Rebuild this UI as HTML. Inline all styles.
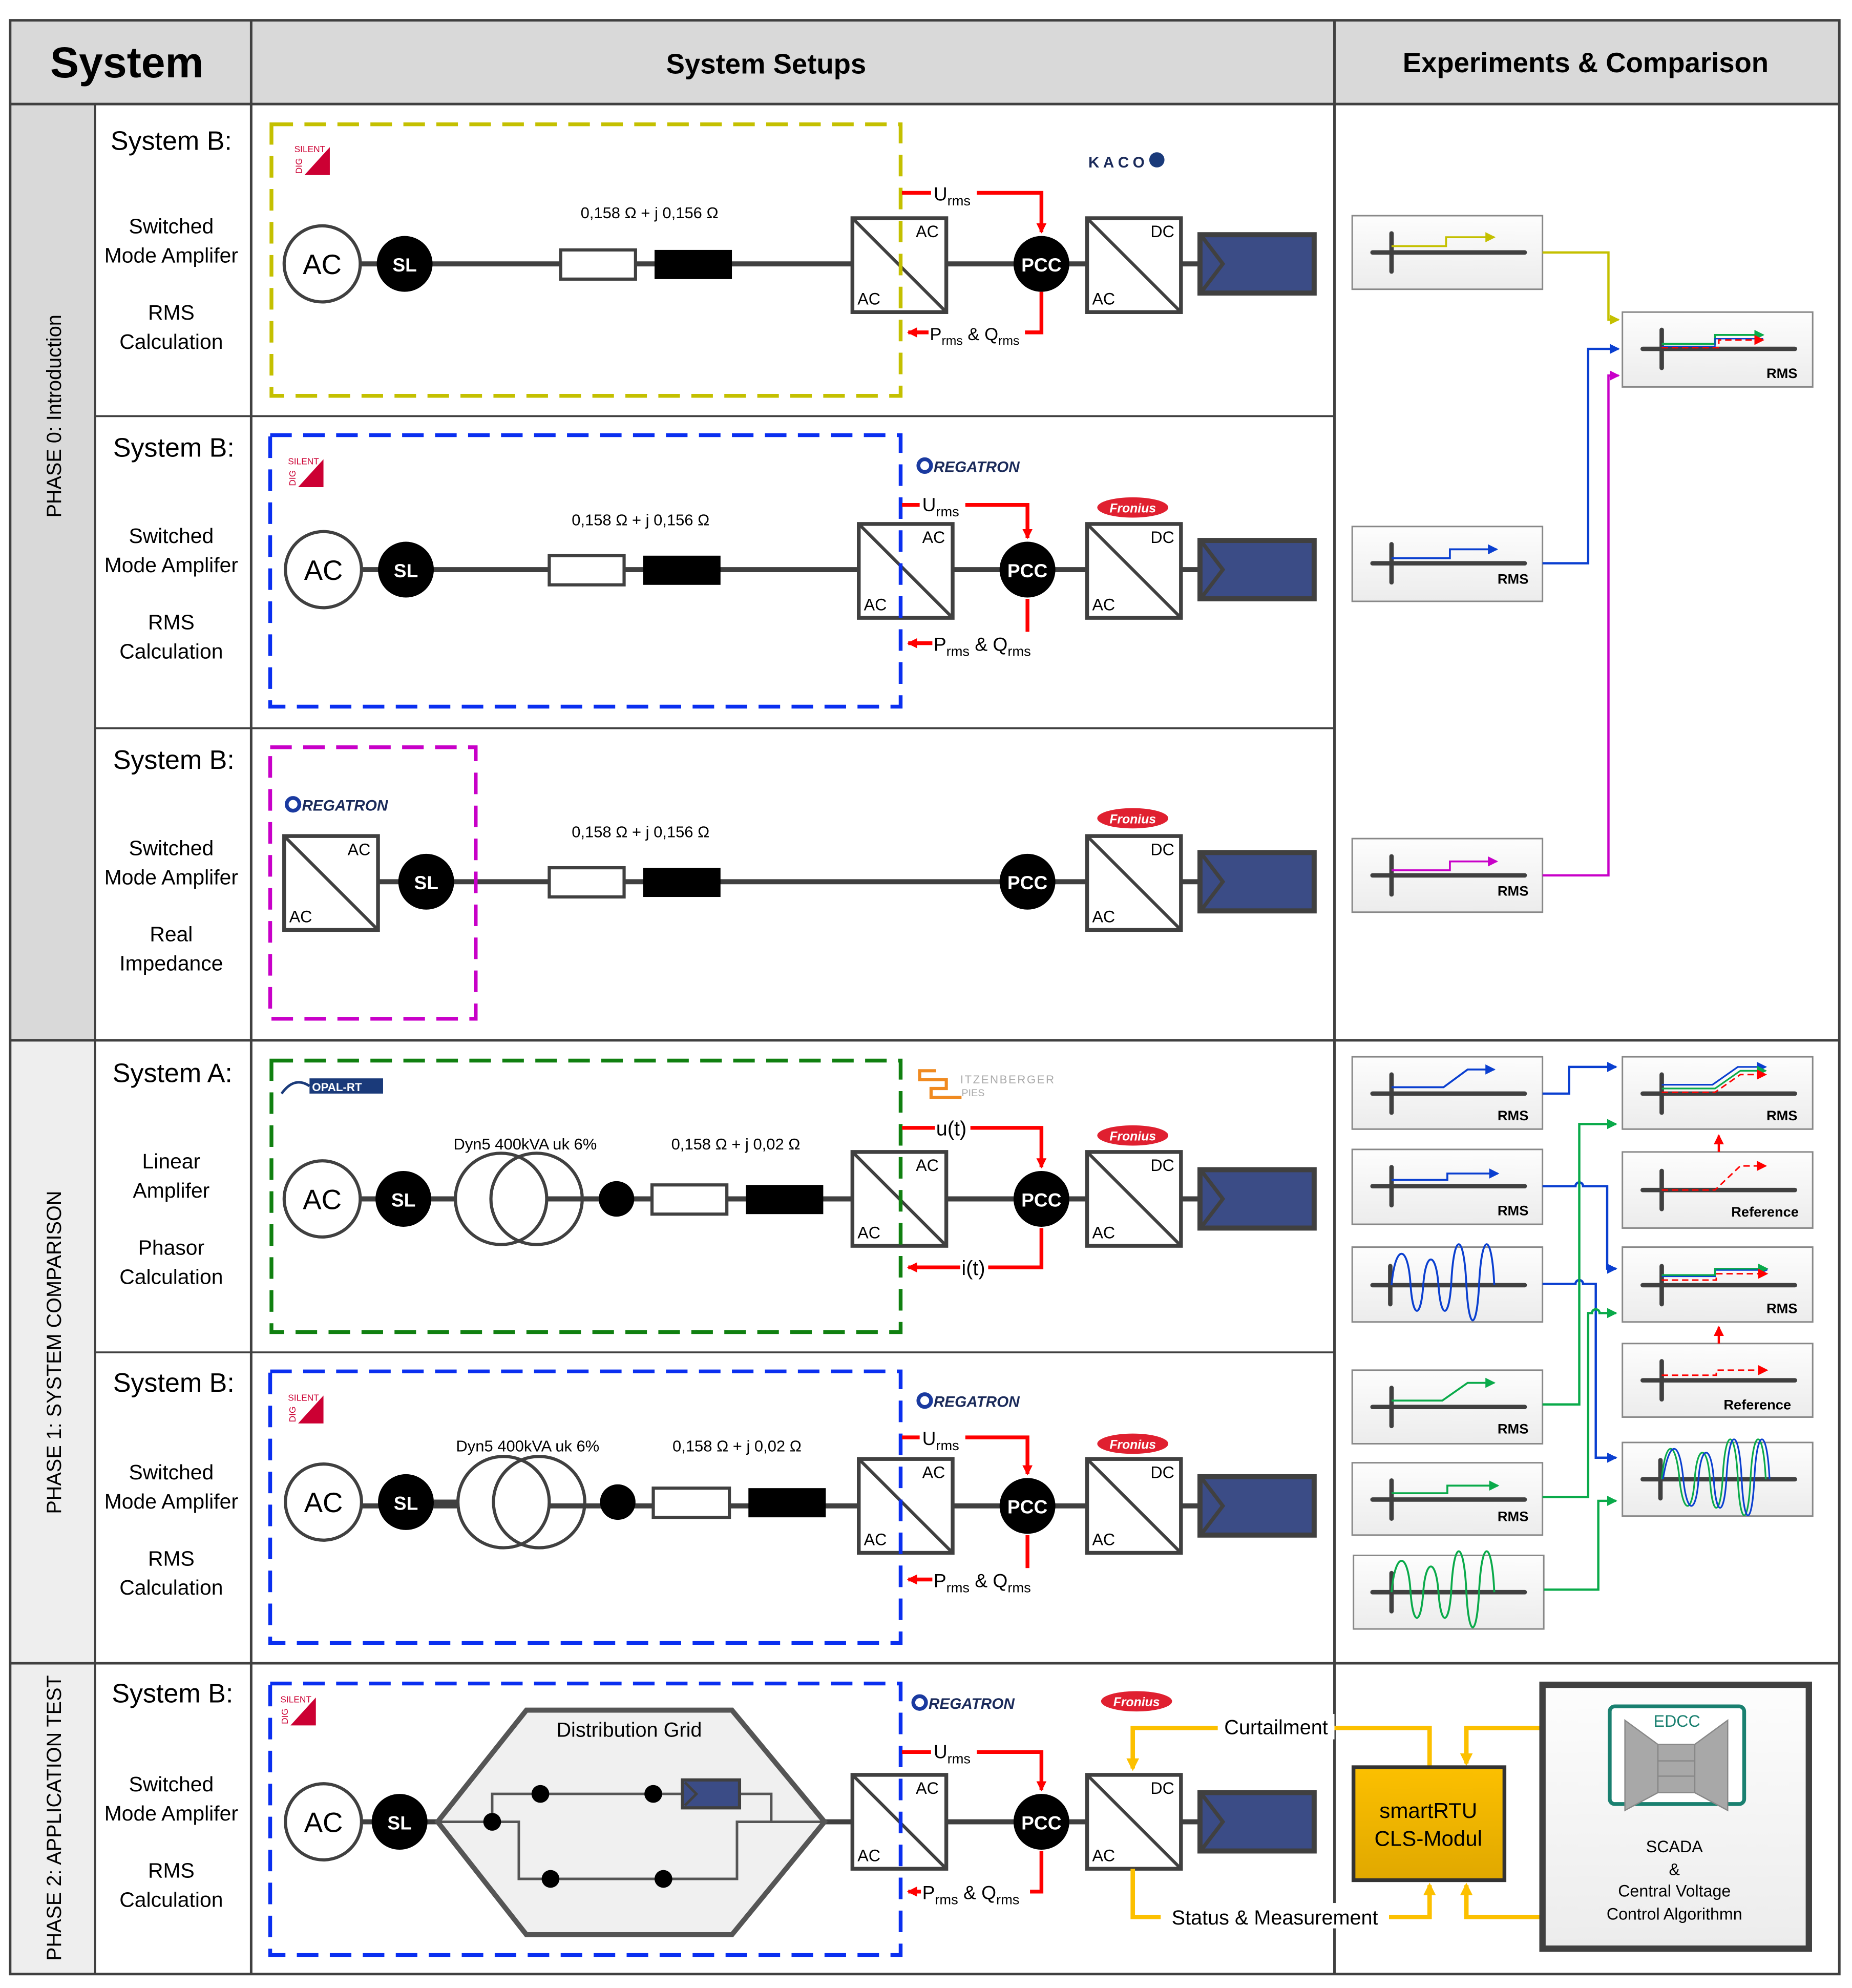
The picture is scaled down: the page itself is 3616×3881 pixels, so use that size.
<!DOCTYPE html>
<html><head><meta charset="utf-8"><style>
html,body{margin:0;padding:0;background:#fff}
svg{display:block}
text{font-family:"Liberation Sans",sans-serif;fill:#000}
.cv{fill:#fff;stroke:#404040;stroke-width:3}
.cvl{stroke:#404040;stroke-width:2.5}
.cl{font-size:13px}
.w{stroke:#404040;stroke-width:4;fill:none}
.rd{stroke:#f00;stroke-width:3;fill:none}
.pn{fill:url(#pg);stroke:#888;stroke-width:1.2}
.ax{stroke:#404040;stroke-width:3.5;stroke-linecap:round}
.rms{font-size:11px;font-weight:bold}
.sys{font-size:21px}
.sub{font-size:16.5px}
</style></head><body>
<svg width="3616" height="3881" viewBox="0 0 1460 1567" xmlns="http://www.w3.org/2000/svg">
<defs>
<linearGradient id="pg" x1="0" y1="0" x2="0" y2="1"><stop offset="0" stop-color="#fdfdfd"/><stop offset="1" stop-color="#ececec"/></linearGradient>
<linearGradient id="og" x1="0" y1="0" x2="0" y2="1"><stop offset="0" stop-color="#fcc000"/><stop offset="1" stop-color="#e0a800"/></linearGradient>
<marker id="mr" markerWidth="10" markerHeight="10" refX="7" refY="4" orient="auto" markerUnits="userSpaceOnUse"><path d="M0,0 L8,4 L0,8 Z" fill="#f00"/></marker>
<marker id="mb" markerWidth="10" markerHeight="10" refX="7" refY="4" orient="auto" markerUnits="userSpaceOnUse"><path d="M0,0 L8,4 L0,8 Z" fill="#0a3fd0"/></marker>
<marker id="mg" markerWidth="10" markerHeight="10" refX="7" refY="4" orient="auto" markerUnits="userSpaceOnUse"><path d="M0,0 L8,4 L0,8 Z" fill="#0aaa4a"/></marker>
<marker id="my" markerWidth="10" markerHeight="10" refX="7" refY="4" orient="auto" markerUnits="userSpaceOnUse"><path d="M0,0 L8,4 L0,8 Z" fill="#c4c000"/></marker>
<marker id="mm" markerWidth="10" markerHeight="10" refX="7" refY="4" orient="auto" markerUnits="userSpaceOnUse"><path d="M0,0 L8,4 L0,8 Z" fill="#c800c8"/></marker>
<marker id="mo" markerWidth="12" markerHeight="12" refX="8" refY="5" orient="auto" markerUnits="userSpaceOnUse"><path d="M0,0 L10,5 L0,10 Z" fill="#fcc000"/></marker>
</defs>

<!-- table backgrounds -->
<rect x="8" y="16" width="1442" height="66" fill="#d9d9d9"/>
<rect x="8" y="82" width="67" height="738" fill="#d9d9d9"/>
<rect x="8" y="820" width="67" height="736" fill="#eeeeee"/>
<g stroke="#404040" stroke-width="2" fill="none">
<rect x="8" y="16" width="1442" height="1540"/>
<line x1="8" y1="82" x2="1450" y2="82"/>
<line x1="198" y1="16" x2="198" y2="1556"/>
<line x1="1052" y1="16" x2="1052" y2="1556"/>
<line x1="75" y1="82" x2="75" y2="1556" stroke-width="1.5"/>
<line x1="75" y1="328" x2="1052" y2="328" stroke-width="1.5"/>
<line x1="75" y1="574" x2="1052" y2="574" stroke-width="1.5"/>
<line x1="8" y1="820" x2="1450" y2="820"/>
<line x1="75" y1="1066" x2="1052" y2="1066" stroke-width="1.5"/>
<line x1="8" y1="1311" x2="1450" y2="1311"/>
</g>
<text x="100" y="61" font-size="34" font-weight="bold" text-anchor="middle">System</text>
<text x="604" y="58" font-size="22" font-weight="bold" text-anchor="middle">System Setups</text>
<text x="1250" y="57" font-size="22" font-weight="bold" text-anchor="middle">Experiments &amp; Comparison</text>

<text transform="translate(48,328) rotate(-90)" font-size="16" text-anchor="middle">PHASE 0: Introduction</text>
<text transform="translate(48,1066) rotate(-90)" font-size="16" text-anchor="middle">PHASE 1: SYSTEM COMPARISON</text>
<text transform="translate(48,1433) rotate(-90)" font-size="16" text-anchor="middle">PHASE 2: APPLICATION TEST</text>

<!-- left labels -->
<g text-anchor="middle">
<text x="135" y="118" class="sys">System B:</text><text x="135" y="184" class="sub">Switched</text><text x="135" y="207" class="sub">Mode Amplifer</text><text x="135" y="252" class="sub">RMS</text><text x="135" y="275" class="sub">Calculation</text>
<text x="137" y="360" class="sys">System B:</text><text x="135" y="428" class="sub">Switched</text><text x="135" y="451" class="sub">Mode Amplifer</text><text x="135" y="496" class="sub">RMS</text><text x="135" y="519" class="sub">Calculation</text>
<text x="137" y="606" class="sys">System B:</text><text x="135" y="674" class="sub">Switched</text><text x="135" y="697" class="sub">Mode Amplifer</text><text x="135" y="742" class="sub">Real</text><text x="135" y="765" class="sub">Impedance</text>
<text x="136" y="853" class="sys">System A:</text><text x="135" y="921" class="sub">Linear</text><text x="135" y="944" class="sub">Amplifer</text><text x="135" y="989" class="sub">Phasor</text><text x="135" y="1012" class="sub">Calculation</text>
<text x="137" y="1097" class="sys">System B:</text><text x="135" y="1166" class="sub">Switched</text><text x="135" y="1189" class="sub">Mode Amplifer</text><text x="135" y="1234" class="sub">RMS</text><text x="135" y="1257" class="sub">Calculation</text>
<text x="136" y="1342" class="sys">System B:</text><text x="135" y="1412" class="sub">Switched</text><text x="135" y="1435" class="sub">Mode Amplifer</text><text x="135" y="1480" class="sub">RMS</text><text x="135" y="1503" class="sub">Calculation</text>
</g>

<!-- ============ ROW 1 ============ -->
<line x1="284" y1="208" x2="946" y2="208" class="w"/>
<rect x="442" y="197" width="59" height="23" fill="#fff" stroke="#404040" stroke-width="2.5"/>
<rect x="516" y="197" width="61" height="23" fill="#000"/>
<text x="512" y="172" font-size="12.5" text-anchor="middle">0,158 Ω  +  j 0,156 Ω</text>
<circle cx="254" cy="208" r="30" fill="#fff" stroke="#404040" stroke-width="2.5"/><text x="254" y="216" font-size="22" text-anchor="middle">AC</text>
<circle cx="319" cy="208" r="22" fill="#000"/><text x="319" y="214" font-size="15" font-weight="bold" fill="#fff" style="fill:#fff" text-anchor="middle">SL</text>
<g transform="translate(672,172)"><rect width="74" height="74" class="cv"/><line x1="0" y1="0" x2="74" y2="74" class="cvl"/><text x="50" y="15" class="cl">AC</text><text x="4" y="68" class="cl">AC</text></g>
<g transform="translate(857,172)"><rect width="74" height="74" class="cv"/><line x1="0" y1="0" x2="74" y2="74" class="cvl"/><text x="50" y="15" class="cl">DC</text><text x="4" y="68" class="cl">AC</text></g>
<g transform="translate(946,185)"><rect width="90" height="46" fill="#3b4c86" stroke="#404040" stroke-width="4"/><polyline points="2,2 18,23 2,44" fill="none" stroke="#404040" stroke-width="3"/></g>
<circle cx="821" cy="208" r="22" fill="#000"/><text x="821" y="214" font-size="15" font-weight="bold" style="fill:#fff" text-anchor="middle">PCC</text>
<rect x="214" y="98" width="496" height="214" fill="none" stroke="#c4c000" stroke-width="3" stroke-dasharray="17,9"/>
<path d="M711 152 H821 V183" class="rd" marker-end="url(#mr)"/>
<path d="M821 230 V262 H716" class="rd" marker-end="url(#mr)"/>
<rect x="734" y="143" width="36" height="18" fill="#fff"/><text x="736" y="158" font-size="15">U<tspan font-size="11" dy="4">rms</tspan></text>
<rect x="732" y="254" width="76" height="18" fill="#fff"/><text x="733" y="268" font-size="14">P<tspan font-size="10" dy="4">rms</tspan><tspan dy="-4"> &amp; Q</tspan><tspan font-size="10" dy="4">rms</tspan></text>
<!-- silent dig logo -->
<g transform="translate(232,112)"><path d="M8,26 L28,4 L28,26 Z" fill="#cc0033"/><text x="0" y="8" font-size="7" style="fill:#cc0033">SILENT</text><text transform="translate(6,25) rotate(-90)" font-size="7" style="fill:#cc0033">DIG</text></g>
<text x="858" y="132" font-size="12" font-weight="bold" letter-spacing="3" fill="#1a2a5a" style="fill:#1a2a5a">KACO</text><circle cx="912" cy="126" r="6" fill="#1a3a7a"/>

<!-- ============ ROW 2 ============ -->
<line x1="285" y1="449" x2="946" y2="449" class="w"/>
<rect x="433" y="438" width="59" height="23" fill="#fff" stroke="#404040" stroke-width="2.5"/>
<rect x="507" y="438" width="61" height="23" fill="#000"/>
<text x="505" y="414" font-size="12.5" text-anchor="middle">0,158 Ω  +  j 0,156 Ω</text>
<circle cx="255" cy="449" r="30" fill="#fff" stroke="#404040" stroke-width="2.5"/><text x="255" y="457" font-size="22" text-anchor="middle">AC</text>
<circle cx="320" cy="449" r="22" fill="#000"/><text x="320" y="455" font-size="15" font-weight="bold" style="fill:#fff" text-anchor="middle">SL</text>
<g transform="translate(677,413)"><rect width="74" height="74" class="cv"/><line x1="0" y1="0" x2="74" y2="74" class="cvl"/><text x="50" y="15" class="cl">AC</text><text x="4" y="68" class="cl">AC</text></g>
<g transform="translate(857,413)"><rect width="74" height="74" class="cv"/><line x1="0" y1="0" x2="74" y2="74" class="cvl"/><text x="50" y="15" class="cl">DC</text><text x="4" y="68" class="cl">AC</text></g>
<g transform="translate(946,426)"><rect width="90" height="46" fill="#3b4c86" stroke="#404040" stroke-width="4"/><polyline points="2,2 18,23 2,44" fill="none" stroke="#404040" stroke-width="3"/></g>
<circle cx="810" cy="449" r="22" fill="#000"/><text x="810" y="455" font-size="15" font-weight="bold" style="fill:#fff" text-anchor="middle">PCC</text>
<rect x="213" y="343" width="497" height="214" fill="none" stroke="#0a2ff0" stroke-width="3" stroke-dasharray="17,9"/>
<path d="M711 398 H810 V424" class="rd" marker-end="url(#mr)"/>
<path d="M810 472 V507 H716" class="rd" marker-end="url(#mr)"/>
<rect x="725" y="389" width="36" height="18" fill="#fff"/><text x="727" y="403" font-size="15">U<tspan font-size="11" dy="4">rms</tspan></text>
<rect x="735" y="498" width="86" height="18" fill="#fff"/><text x="736" y="513" font-size="15">P<tspan font-size="11" dy="4">rms</tspan><tspan dy="-4"> &amp; Q</tspan><tspan font-size="11" dy="4">rms</tspan></text>
<g transform="translate(227,358)"><path d="M8,26 L28,4 L28,26 Z" fill="#cc0033"/><text x="0" y="8" font-size="7" style="fill:#cc0033">SILENT</text><text transform="translate(6,25) rotate(-90)" font-size="7" style="fill:#cc0033">DIG</text></g>
<g><circle cx="729" cy="367" r="5" fill="none" stroke="#1a3aa0" stroke-width="3"/><text x="736" y="372" font-size="12" font-weight="bold" font-style="italic" style="fill:#1a2a5a">REGATRON</text></g>
<g><ellipse cx="893" cy="400" rx="28" ry="8" fill="#e02030"/><text x="893" y="404" font-size="10" font-style="italic" font-weight="bold" text-anchor="middle" style="fill:#fff">Fronius</text></g>

<!-- ============ ROW 3 ============ -->
<line x1="298" y1="695" x2="946" y2="695" class="w"/>
<rect x="433" y="684" width="59" height="23" fill="#fff" stroke="#404040" stroke-width="2.5"/>
<rect x="507" y="684" width="61" height="23" fill="#000"/>
<text x="505" y="660" font-size="12.5" text-anchor="middle">0,158 Ω  +  j 0,156 Ω</text>
<g transform="translate(224,659)"><rect width="74" height="74" class="cv"/><line x1="0" y1="0" x2="74" y2="74" class="cvl"/><text x="50" y="15" class="cl">AC</text><text x="4" y="68" class="cl">AC</text></g>
<circle cx="336" cy="695" r="22" fill="#000"/><text x="336" y="701" font-size="15" font-weight="bold" style="fill:#fff" text-anchor="middle">SL</text>
<g transform="translate(857,659)"><rect width="74" height="74" class="cv"/><line x1="0" y1="0" x2="74" y2="74" class="cvl"/><text x="50" y="15" class="cl">DC</text><text x="4" y="68" class="cl">AC</text></g>
<g transform="translate(946,672)"><rect width="90" height="46" fill="#3b4c86" stroke="#404040" stroke-width="4"/><polyline points="2,2 18,23 2,44" fill="none" stroke="#404040" stroke-width="3"/></g>
<circle cx="810" cy="695" r="22" fill="#000"/><text x="810" y="701" font-size="15" font-weight="bold" style="fill:#fff" text-anchor="middle">PCC</text>
<rect x="213" y="589" width="162" height="214" fill="none" stroke="#c800c8" stroke-width="3" stroke-dasharray="17,9"/>
<g><circle cx="231" cy="634" r="5" fill="none" stroke="#1a3aa0" stroke-width="3"/><text x="238" y="639" font-size="12" font-weight="bold" font-style="italic" style="fill:#1a2a5a">REGATRON</text></g>
<g><ellipse cx="893" cy="645" rx="28" ry="8" fill="#e02030"/><text x="893" y="649" font-size="10" font-style="italic" font-weight="bold" text-anchor="middle" style="fill:#fff">Fronius</text></g>

<!-- ============ ROW 4 (System A) ============ -->
<line x1="283" y1="945" x2="946" y2="945" class="w"/>
<circle cx="254" cy="945" r="30" fill="#fff" stroke="#404040" stroke-width="2.5"/><text x="254" y="953" font-size="22" text-anchor="middle">AC</text>
<circle cx="318" cy="945" r="22" fill="#000"/><text x="318" y="951" font-size="15" font-weight="bold" style="fill:#fff" text-anchor="middle">SL</text>
<circle cx="395" cy="945" r="36" fill="#fff" stroke="#404040" stroke-width="2.5"/><circle cx="423" cy="945" r="36" fill="none" stroke="#404040" stroke-width="2.5"/>
<line x1="340" y1="945" x2="359" y2="945" class="w"/>
<circle cx="486" cy="945" r="14" fill="#000"/>
<rect x="514" y="934" width="59" height="23" fill="#fff" stroke="#404040" stroke-width="2.5"/>
<rect x="588" y="934" width="61" height="23" fill="#000"/>
<text x="414" y="906" font-size="12.5" text-anchor="middle">Dyn5 400kVA uk 6%</text>
<text x="580" y="906" font-size="12.5" text-anchor="middle">0,158 Ω   +   j 0,02 Ω</text>
<g transform="translate(672,908)"><rect width="74" height="74" class="cv"/><line x1="0" y1="0" x2="74" y2="74" class="cvl"/><text x="50" y="15" class="cl">AC</text><text x="4" y="68" class="cl">AC</text></g>
<g transform="translate(857,908)"><rect width="74" height="74" class="cv"/><line x1="0" y1="0" x2="74" y2="74" class="cvl"/><text x="50" y="15" class="cl">DC</text><text x="4" y="68" class="cl">AC</text></g>
<g transform="translate(946,922)"><rect width="90" height="46" fill="#3b4c86" stroke="#404040" stroke-width="4"/><polyline points="2,2 18,23 2,44" fill="none" stroke="#404040" stroke-width="3"/></g>
<circle cx="821" cy="945" r="22" fill="#000"/><text x="821" y="951" font-size="15" font-weight="bold" style="fill:#fff" text-anchor="middle">PCC</text>
<rect x="214" y="836" width="496" height="214" fill="none" stroke="#108010" stroke-width="3" stroke-dasharray="17,9"/>
<path d="M711 889 H821 V920" class="rd" marker-end="url(#mr)"/>
<path d="M821 968 V999 H716" class="rd" marker-end="url(#mr)"/>
<rect x="737" y="879" width="28" height="20" fill="#fff"/><text x="738" y="895" font-size="16">u(t)</text>
<rect x="757" y="989" width="22" height="20" fill="#fff"/><text x="758" y="1005" font-size="16">i(t)</text>
<g><rect x="244" y="850" width="58" height="12" fill="#1a3a7a"/><text x="246" y="860" font-size="9" font-weight="bold" style="fill:#fff">OPAL-RT</text><path d="M222 862 Q232 848 244 856" stroke="#1a3a7a" stroke-width="2" fill="none"/></g>
<g><path d="M738 844 H725 V851 H746 V858 H734 V865 H758" stroke="#f08a20" stroke-width="2.5" fill="none"/><text x="757" y="854" font-size="9" style="fill:#aaa" letter-spacing="1">ITZENBERGER</text><text x="758" y="864" font-size="8" style="fill:#aaa">PIES</text></g>
<g><ellipse cx="893" cy="895" rx="28" ry="8" fill="#e02030"/><text x="893" y="899" font-size="10" font-style="italic" font-weight="bold" text-anchor="middle" style="fill:#fff">Fronius</text></g>

<!-- ============ ROW 5 ============ -->
<line x1="285" y1="1187" x2="946" y2="1187" class="w"/>
<circle cx="255" cy="1184" r="30" fill="#fff" stroke="#404040" stroke-width="2.5"/><text x="255" y="1192" font-size="22" text-anchor="middle">AC</text>
<circle cx="320" cy="1184" r="22" fill="#000"/><text x="320" y="1190" font-size="15" font-weight="bold" style="fill:#fff" text-anchor="middle">SL</text>
<circle cx="397" cy="1184" r="36" fill="#fff" stroke="#404040" stroke-width="2.5"/><circle cx="425" cy="1184" r="36" fill="none" stroke="#404040" stroke-width="2.5"/>
<line x1="342" y1="1184" x2="361" y2="1184" class="w"/>
<circle cx="487" cy="1184" r="14" fill="#000"/>
<rect x="515" y="1173" width="60" height="23" fill="#fff" stroke="#404040" stroke-width="2.5"/>
<rect x="590" y="1173" width="61" height="23" fill="#000"/>
<text x="416" y="1144" font-size="12.5" text-anchor="middle">Dyn5 400kVA uk 6%</text>
<text x="581" y="1144" font-size="12.5" text-anchor="middle">0,158 Ω   +   j 0,02 Ω</text>
<g transform="translate(677,1150)"><rect width="74" height="74" class="cv"/><line x1="0" y1="0" x2="74" y2="74" class="cvl"/><text x="50" y="15" class="cl">AC</text><text x="4" y="68" class="cl">AC</text></g>
<g transform="translate(857,1150)"><rect width="74" height="74" class="cv"/><line x1="0" y1="0" x2="74" y2="74" class="cvl"/><text x="50" y="15" class="cl">DC</text><text x="4" y="68" class="cl">AC</text></g>
<g transform="translate(946,1164)"><rect width="90" height="46" fill="#3b4c86" stroke="#404040" stroke-width="4"/><polyline points="2,2 18,23 2,44" fill="none" stroke="#404040" stroke-width="3"/></g>
<circle cx="810" cy="1187" r="22" fill="#000"/><text x="810" y="1193" font-size="15" font-weight="bold" style="fill:#fff" text-anchor="middle">PCC</text>
<rect x="213" y="1081" width="497" height="214" fill="none" stroke="#0a2ff0" stroke-width="3" stroke-dasharray="17,9"/>
<path d="M711 1133 H810 V1162" class="rd" marker-end="url(#mr)"/>
<path d="M810 1210 V1245 H716" class="rd" marker-end="url(#mr)"/>
<rect x="725" y="1124" width="36" height="18" fill="#fff"/><text x="727" y="1139" font-size="15">U<tspan font-size="11" dy="4">rms</tspan></text>
<rect x="735" y="1236" width="86" height="18" fill="#fff"/><text x="736" y="1251" font-size="15">P<tspan font-size="11" dy="4">rms</tspan><tspan dy="-4"> &amp; Q</tspan><tspan font-size="11" dy="4">rms</tspan></text>
<g transform="translate(227,1096)"><path d="M8,26 L28,4 L28,26 Z" fill="#cc0033"/><text x="0" y="8" font-size="7" style="fill:#cc0033">SILENT</text><text transform="translate(6,25) rotate(-90)" font-size="7" style="fill:#cc0033">DIG</text></g>
<g><circle cx="729" cy="1104" r="5" fill="none" stroke="#1a3aa0" stroke-width="3"/><text x="736" y="1109" font-size="12" font-weight="bold" font-style="italic" style="fill:#1a2a5a">REGATRON</text></g>
<g><ellipse cx="893" cy="1138" rx="28" ry="8" fill="#e02030"/><text x="893" y="1142" font-size="10" font-style="italic" font-weight="bold" text-anchor="middle" style="fill:#fff">Fronius</text></g>

<!-- ============ ROW 6 ============ -->
<line x1="285" y1="1436" x2="345" y2="1436" class="w"/>
<line x1="650" y1="1436" x2="946" y2="1436" class="w"/>
<polygon points="345,1436 415,1348 577,1348 650,1436 577,1525 415,1525" fill="#f0f0f0" stroke="#555" stroke-width="4"/>
<text x="496" y="1369" font-size="16" text-anchor="middle">Distribution Grid</text>
<path d="M345 1436 H388 V1414 H538 M388 1436 H409 V1481 H581 V1436 H650 M583 1414 H608 V1436" stroke="#555" stroke-width="2" fill="none"/>
<rect x="538" y="1403" width="45" height="22" fill="#3b4c86" stroke="#404040" stroke-width="2.5"/><polyline points="540,1405 549,1414 540,1423" fill="none" stroke="#404040" stroke-width="2"/>
<circle cx="388" cy="1436" r="7" fill="#000"/><circle cx="426" cy="1414" r="7" fill="#000"/><circle cx="515" cy="1414" r="7" fill="#000"/><circle cx="434" cy="1481" r="7" fill="#000"/><circle cx="523" cy="1481" r="7" fill="#000"/>
<circle cx="255" cy="1436" r="30" fill="#fff" stroke="#404040" stroke-width="2.5"/><text x="255" y="1444" font-size="22" text-anchor="middle">AC</text>
<circle cx="315" cy="1436" r="22" fill="#000"/><text x="315" y="1442" font-size="15" font-weight="bold" style="fill:#fff" text-anchor="middle">SL</text>
<g transform="translate(672,1399)"><rect width="74" height="74" class="cv"/><line x1="0" y1="0" x2="74" y2="74" class="cvl"/><text x="50" y="15" class="cl">AC</text><text x="4" y="68" class="cl">AC</text></g>
<g transform="translate(857,1399)"><rect width="74" height="74" class="cv"/><line x1="0" y1="0" x2="74" y2="74" class="cvl"/><text x="50" y="15" class="cl">DC</text><text x="4" y="68" class="cl">AC</text></g>
<g transform="translate(946,1413)"><rect width="90" height="46" fill="#3b4c86" stroke="#404040" stroke-width="4"/><polyline points="2,2 18,23 2,44" fill="none" stroke="#404040" stroke-width="3"/></g>
<circle cx="821" cy="1436" r="22" fill="#000"/><text x="821" y="1442" font-size="15" font-weight="bold" style="fill:#fff" text-anchor="middle">PCC</text>
<rect x="213" y="1327" width="497" height="214" fill="none" stroke="#0a2ff0" stroke-width="3" stroke-dasharray="17,9"/>
<path d="M711 1381 H821 V1411" class="rd" marker-end="url(#mr)"/>
<path d="M821 1459 V1491 H716" class="rd" marker-end="url(#mr)"/>
<rect x="734" y="1372" width="36" height="18" fill="#fff"/><text x="736" y="1386" font-size="15">U<tspan font-size="11" dy="4">rms</tspan></text>
<rect x="726" y="1482" width="86" height="18" fill="#fff"/><text x="727" y="1497" font-size="15">P<tspan font-size="11" dy="4">rms</tspan><tspan dy="-4"> &amp; Q</tspan><tspan font-size="11" dy="4">rms</tspan></text>
<g transform="translate(221,1334)"><path d="M8,26 L28,4 L28,26 Z" fill="#cc0033"/><text x="0" y="8" font-size="7" style="fill:#cc0033">SILENT</text><text transform="translate(6,25) rotate(-90)" font-size="7" style="fill:#cc0033">DIG</text></g>
<g><circle cx="725" cy="1342" r="5" fill="none" stroke="#1a3aa0" stroke-width="3"/><text x="732" y="1347" font-size="12" font-weight="bold" font-style="italic" style="fill:#1a2a5a">REGATRON</text></g>
<g><ellipse cx="896" cy="1341" rx="28" ry="8" fill="#e02030"/><text x="896" y="1345" font-size="10" font-style="italic" font-weight="bold" text-anchor="middle" style="fill:#fff">Fronius</text></g>

<!-- orange connectors -->
<g stroke="#fcc000" stroke-width="3.5" fill="none">
<path d="M1127 1393 V1362 H893 V1394" marker-end="url(#mo)"/>
<path d="M893 1473 V1511 H1127 V1486" marker-end="url(#mo)"/>
<path d="M1215 1362 H1156 V1390" marker-end="url(#mo)"/>
<path d="M1215 1511 H1156 V1486" marker-end="url(#mo)"/>
</g>
<rect x="960" y="1351" width="92" height="20" fill="#fff"/><text x="1006" y="1367" font-size="16" text-anchor="middle">Curtailment</text>
<rect x="915" y="1500" width="180" height="20" fill="#fff"/><text x="1005" y="1517" font-size="16" text-anchor="middle">Status &amp; Measurement</text>
<rect x="1067" y="1393" width="119" height="89" fill="url(#og)" stroke="#333" stroke-width="3"/>
<text x="1126" y="1433" font-size="17" text-anchor="middle">smartRTU</text><text x="1126" y="1455" font-size="17" text-anchor="middle">CLS-Modul</text>
<rect x="1216" y="1328" width="210" height="208" fill="url(#pg)" stroke="#404040" stroke-width="5"/>
<rect x="1269" y="1345" width="106" height="77" rx="4" fill="#fff" stroke="#1a8070" stroke-width="3"/>
<g fill="#a8a8a8" stroke="#888" stroke-width="1"><polygon points="1281,1356 1307,1375 1307,1413 1281,1427"/><polygon points="1362,1356 1336,1375 1336,1413 1362,1427"/><rect x="1307" y="1375" width="29" height="38"/><line x1="1307" y1="1388" x2="1336" y2="1388"/><line x1="1307" y1="1400" x2="1336" y2="1400"/></g>
<text x="1322" y="1361" font-size="13" text-anchor="middle" style="fill:#1a8070">EDCC</text>
<g text-anchor="middle" font-size="13"><text x="1320" y="1460">SCADA</text><text x="1320" y="1478">&amp;</text><text x="1320" y="1495">Central Voltage</text><text x="1320" y="1513">Control Algorithmn</text></g>

<!-- ============ EXPERIMENTS: phase 0 ============ -->
<rect x="1066" y="170" width="150" height="58" class="pn"/>
<line x1="1082" y1="199" x2="1202" y2="199" class="ax"/><line x1="1097" y1="184" x2="1097" y2="214" class="ax"/>
<path d="M1097 194 H1140 V187 H1178" stroke="#c4c000" stroke-width="1.5" fill="none" marker-end="url(#my)"/>
<rect x="1279" y="246" width="150" height="59" class="pn"/>
<line x1="1295" y1="275" x2="1415" y2="275" class="ax"/><line x1="1310" y1="260" x2="1310" y2="290" class="ax"/>
<path d="M1310 271 H1352 V264 H1390" stroke="#0aaa4a" stroke-width="1.5" fill="none" marker-end="url(#mg)"/>
<path d="M1310 273 H1352 V267 H1390" stroke="#0a3fd0" stroke-width="1" fill="none"/>
<path d="M1310 274 H1355 V268 H1390" stroke="#f00" stroke-width="1.2" stroke-dasharray="5,3" fill="none" marker-end="url(#mr)"/>
<text x="1417" y="298" class="rms" text-anchor="end">RMS</text>
<rect x="1066" y="415" width="150" height="59" class="pn"/>
<line x1="1082" y1="444" x2="1202" y2="444" class="ax"/><line x1="1097" y1="429" x2="1097" y2="459" class="ax"/>
<path d="M1097 440 H1143 V433 H1180" stroke="#0a3fd0" stroke-width="1.5" fill="none" marker-end="url(#mb)"/>
<text x="1205" y="460" class="rms" text-anchor="end">RMS</text>
<rect x="1066" y="661" width="150" height="58" class="pn"/>
<line x1="1082" y1="690" x2="1202" y2="690" class="ax"/><line x1="1097" y1="675" x2="1097" y2="705" class="ax"/>
<path d="M1097 686 H1143 V679 H1180" stroke="#c800c8" stroke-width="1.5" fill="none" marker-end="url(#mm)"/>
<text x="1205" y="706" class="rms" text-anchor="end">RMS</text>
<path d="M1216 199 H1268 V252 H1276" stroke="#c4c000" stroke-width="1.8" fill="none" marker-end="url(#my)"/>
<path d="M1216 444 H1252 V275 H1276" stroke="#0a3fd0" stroke-width="1.8" fill="none" marker-end="url(#mb)"/>
<path d="M1216 690 H1268 V296 H1276" stroke="#c800c8" stroke-width="1.8" fill="none" marker-end="url(#mm)"/>

<!-- ============ EXPERIMENTS: phase 1 ============ -->
<!-- left panels -->
<rect x="1066" y="833" width="150" height="57" class="pn"/>
<line x1="1082" y1="862" x2="1202" y2="862" class="ax"/><line x1="1097" y1="847" x2="1097" y2="877" class="ax"/>
<path d="M1097 857 H1138 L1157 843 H1178" stroke="#0a3fd0" stroke-width="1.5" fill="none" marker-end="url(#mb)"/>
<text x="1205" y="883" class="rms" text-anchor="end">RMS</text>
<rect x="1066" y="906" width="150" height="59" class="pn"/>
<line x1="1082" y1="935" x2="1202" y2="935" class="ax"/><line x1="1097" y1="920" x2="1097" y2="950" class="ax"/>
<path d="M1097 930 H1141 V925 H1181" stroke="#0a3fd0" stroke-width="1.5" fill="none" marker-end="url(#mb)"/>
<text x="1205" y="958" class="rms" text-anchor="end">RMS</text>
<rect x="1066" y="983" width="150" height="59" class="pn"/>
<line x1="1082" y1="1013" x2="1202" y2="1013" class="ax"/><line x1="1096" y1="998" x2="1096" y2="1028" class="ax"/>
<path d="M1097 1013 C1100 980 1110 980 1112 1013 C1114 1040 1120 1040 1122 1013 C1124 986 1132 986 1134 1013 C1136 1040 1142 1040 1144 1013 C1146 970 1154 970 1156 1013 C1158 1050 1164 1050 1166 1013 C1168 970 1176 970 1178 1013" stroke="#0a3fd0" stroke-width="1.5" fill="none"/>
<rect x="1066" y="1080" width="150" height="58" class="pn"/>
<line x1="1082" y1="1109" x2="1202" y2="1109" class="ax"/><line x1="1097" y1="1094" x2="1097" y2="1124" class="ax"/>
<path d="M1097 1104 H1137 L1157 1090 H1178" stroke="#0aaa4a" stroke-width="1.5" fill="none" marker-end="url(#mg)"/>
<text x="1205" y="1130" class="rms" text-anchor="end">RMS</text>
<rect x="1066" y="1153" width="150" height="57" class="pn"/>
<line x1="1082" y1="1182" x2="1202" y2="1182" class="ax"/><line x1="1097" y1="1167" x2="1097" y2="1197" class="ax"/>
<path d="M1097 1177 H1141 V1171 H1181" stroke="#0aaa4a" stroke-width="1.5" fill="none" marker-end="url(#mg)"/>
<text x="1205" y="1199" class="rms" text-anchor="end">RMS</text>
<rect x="1067" y="1226" width="150" height="58" class="pn"/>
<line x1="1082" y1="1255" x2="1202" y2="1255" class="ax"/><line x1="1097" y1="1240" x2="1097" y2="1270" class="ax"/>
<path d="M1097 1255 C1100 1222 1110 1222 1112 1255 C1114 1282 1120 1282 1122 1255 C1124 1228 1132 1228 1134 1255 C1136 1282 1142 1282 1144 1255 C1146 1212 1154 1212 1156 1255 C1158 1292 1164 1292 1166 1255 C1168 1212 1176 1212 1178 1255" stroke="#0aaa4a" stroke-width="1.5" fill="none"/>
<!-- right panels -->
<rect x="1279" y="833" width="150" height="57" class="pn"/>
<line x1="1295" y1="862" x2="1415" y2="862" class="ax"/><line x1="1310" y1="847" x2="1310" y2="877" class="ax"/>
<path d="M1310 855 H1350 L1370 841 H1392" stroke="#0a3fd0" stroke-width="1.3" fill="none" marker-end="url(#mb)"/>
<path d="M1310 858 H1352 L1372 844 H1392" stroke="#0aaa4a" stroke-width="1.3" fill="none" marker-end="url(#mg)"/>
<path d="M1310 861 H1352 L1372 847 H1392" stroke="#f00" stroke-width="1.2" stroke-dasharray="5,3" fill="none" marker-end="url(#mr)"/>
<text x="1417" y="883" class="rms" text-anchor="end">RMS</text>
<rect x="1279" y="908" width="150" height="60" class="pn"/>
<line x1="1295" y1="938" x2="1415" y2="938" class="ax"/><line x1="1310" y1="923" x2="1310" y2="953" class="ax"/>
<path d="M1310 938 H1352 L1372 919 H1392" stroke="#f00" stroke-width="1.2" stroke-dasharray="5,3" fill="none" marker-end="url(#mr)"/>
<text x="1418" y="959" class="rms" text-anchor="end">Reference</text>
<rect x="1279" y="983" width="150" height="59" class="pn"/>
<line x1="1295" y1="1013" x2="1415" y2="1013" class="ax"/><line x1="1310" y1="998" x2="1310" y2="1028" class="ax"/>
<path d="M1310 1006 H1352 V1001 H1393" stroke="#0a3fd0" stroke-width="1.3" fill="none" marker-end="url(#mb)"/>
<path d="M1310 1005 H1352 V1000 H1393" stroke="#0aaa4a" stroke-width="1.3" fill="none" marker-end="url(#mg)"/>
<path d="M1310 1009 H1353 V1004 H1393" stroke="#f00" stroke-width="1.2" stroke-dasharray="5,3" fill="none" marker-end="url(#mr)"/>
<text x="1417" y="1035" class="rms" text-anchor="end">RMS</text>
<rect x="1279" y="1059" width="150" height="58" class="pn"/>
<line x1="1295" y1="1088" x2="1415" y2="1088" class="ax"/><line x1="1310" y1="1073" x2="1310" y2="1103" class="ax"/>
<path d="M1310 1084 H1353 V1080 H1393" stroke="#f00" stroke-width="1.2" stroke-dasharray="5,3" fill="none" marker-end="url(#mr)"/>
<text x="1412" y="1111" class="rms" text-anchor="end">Reference</text>
<rect x="1279" y="1137" width="150" height="58" class="pn"/>
<line x1="1295" y1="1166" x2="1415" y2="1166" class="ax"/><line x1="1309" y1="1151" x2="1309" y2="1181" class="ax"/>
<path d="M1310 1166 C1313 1134 1321 1134 1324 1166 C1327 1194 1334 1194 1336 1166 C1338 1138 1346 1138 1348 1166 C1350 1196 1356 1196 1358 1166 C1360 1124 1368 1124 1370 1166 C1372 1204 1378 1204 1380 1166 C1382 1124 1390 1124 1392 1166" stroke="#0aaa4a" stroke-width="1.3" fill="none"/>
<path d="M1311 1166 C1316 1134 1324 1134 1327 1166 C1330 1194 1337 1194 1339 1166 C1341 1138 1349 1138 1351 1166 C1353 1196 1359 1196 1361 1166 C1363 1124 1371 1124 1373 1166 C1375 1204 1381 1204 1383 1166 C1385 1124 1393 1124 1395 1166" stroke="#0a3fd0" stroke-width="1.3" fill="none"/>
<!-- connectors -->
<g fill="none" stroke-width="1.8">
<path d="M1216 862 H1237 V841 H1274" stroke="#0a3fd0" marker-end="url(#mb)"/>
<path d="M1216 935 H1242 A3 3 0 0 1 1248 935 H1267 V1000 H1274" stroke="#0a3fd0" marker-end="url(#mb)"/>
<path d="M1216 1012 H1242 A3 3 0 0 1 1248 1012 H1258 V1149 H1274" stroke="#0a3fd0" marker-end="url(#mb)"/>
<path d="M1216 1107 H1245 V886 H1274" stroke="#0aaa4a" marker-end="url(#mg)"/>
<path d="M1216 1180 H1252 V1035 H1255 A3 3 0 0 1 1261 1035 H1274" stroke="#0aaa4a" marker-end="url(#mg)"/>
<path d="M1217 1253 H1260 V1183 H1274" stroke="#0aaa4a" marker-end="url(#mg)"/>
<path d="M1355 908 V895" stroke="#f00" marker-end="url(#mr)"/>
<path d="M1355 1059 V1046" stroke="#f00" marker-end="url(#mr)"/>
</g>
</svg>
</body></html>
